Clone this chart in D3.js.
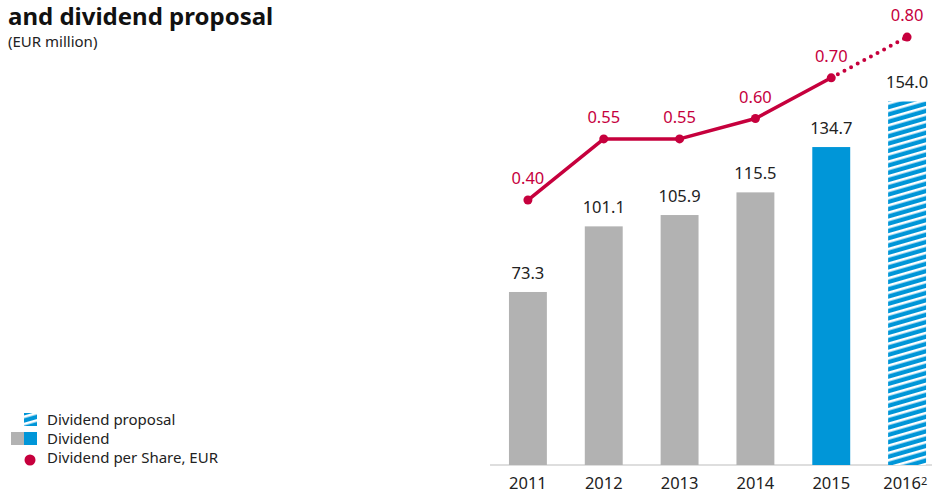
<!DOCTYPE html>
<html>
<head>
<meta charset="utf-8">
<script src="https://cdn.jsdelivr.net/npm/d3@7"></script>
<style>
  html, body { margin: 0; padding: 0; background: #fff; }
  svg { display: block; font-family: "Noto Sans", "Open Sans", sans-serif; }
</style>
</head>
<body>
<svg id="chart" width="932" height="494"></svg>
<script>
// Dividend totals (EUR million) and dividend per share (EUR)
const years = ["2011", "2012", "2013", "2014", "2015", "2016"];
const dividendTotal = [73.3, 101.1, 105.9, 115.5, 134.7, 154.0];
const barKind = ["past", "past", "past", "past", "current", "proposal"];
const dividendPerShare = [0.40, 0.55, 0.55, 0.60, 0.70, 0.80];
const footnoteYear = "2016";
const footnoteMark = "2";

const legendItems = ["Dividend proposal", "Dividend", "Dividend per Share, EUR"];

const GREY = "#b2b2b2", BLUE = "#0096d8", RED = "#c6003d", TEXT = "#222";

const svg = d3.select("#chart");

// Striped fill for the proposed dividend
const defs = svg.append("defs");
const pat = defs.append("pattern")
  .attr("id", "stripes")
  .attr("patternUnits", "userSpaceOnUse")
  .attr("width", 20).attr("height", 7)
  .attr("patternTransform", "rotate(-16)");
pat.append("rect").attr("width", 20).attr("height", 7).attr("fill", BLUE);
pat.append("rect").attr("y", 0).attr("width", 20).attr("height", 2.6).attr("fill", "#fff");

// Heading
svg.append("text").attr("x", 8).attr("y", 25)
  .attr("font-size", 24).attr("font-weight", "bold").attr("fill", "#111")
  .text("and dividend proposal");
svg.append("text").attr("x", 8).attr("y", 47)
  .attr("font-size", 15).attr("fill", TEXT)
  .text("(EUR million)");

// Scales
const x = d3.scaleBand().domain(years).range([490, 945]).paddingInner(0.5).paddingOuter(0.25);
const y = d3.scaleLinear().domain([0, 197]).range([465, 0]);
const y2 = d3.scaleLinear().domain([0, 0.891]).range([363, 0]);

// Baseline
svg.append("line")
  .attr("x1", 490).attr("x2", 932)
  .attr("y1", y(0)).attr("y2", y(0))
  .attr("stroke", "#bdbdbd").attr("stroke-width", 1);

// Bars
const barData = years.map((yr, i) => ({ yr, v: dividendTotal[i], kind: barKind[i] }));
svg.append("g").selectAll("rect").data(barData).join("rect")
  .attr("x", d => x(d.yr))
  .attr("width", x.bandwidth())
  .attr("y", d => y(d.v))
  .attr("height", d => y(0) - y(d.v))
  .attr("fill", d => d.kind === "past" ? GREY : d.kind === "current" ? BLUE : "url(#stripes)");

svg.append("g").selectAll("text").data(barData).join("text")
  .attr("x", d => x(d.yr) + x.bandwidth() / 2)
  .attr("y", d => y(d.v) - 13)
  .attr("text-anchor", "middle").attr("font-size", 16.5).attr("fill", TEXT)
  .text(d => d.v.toFixed(1));

// Category axis
const axis = d3.axisBottom(x).tickSize(0).tickPadding(12);
const gAxis = svg.append("g").attr("transform", `translate(0,${y(0)})`).call(axis);
gAxis.select(".domain").remove();
gAxis.selectAll("text").attr("font-size", 16.5).attr("fill", TEXT)
  .attr("font-family", "Noto Sans, Open Sans, sans-serif");
// Footnoted year: label nudged left, footnote mark beside it
const fnTick = gAxis.selectAll(".tick").filter(d => d === footnoteYear);
fnTick.select("text").attr("dx", -5);
fnTick.append("text")
  .attr("x", 17).attr("y", 20)
  .attr("font-size", 11).attr("fill", TEXT)
  .attr("font-family", "Noto Sans, Open Sans, sans-serif")
  .text(footnoteMark);

// Dividend per share line (solid for paid years, dotted for proposal)
const pts = years.map((yr, i) => ({ yr, v: dividendPerShare[i], cx: x(yr) + x.bandwidth() / 2, cy: y2(dividendPerShare[i]) }));
const line = d3.line().x(d => d.cx).y(d => d.cy);
const last = pts.length - 1;
svg.append("path").datum(pts.slice(0, last))
  .attr("d", line).attr("fill", "none")
  .attr("stroke", RED).attr("stroke-width", 3.5).attr("stroke-linejoin", "round");
svg.append("path").datum(pts.slice(last - 1))
  .attr("d", line).attr("fill", "none")
  .attr("stroke", RED).attr("stroke-width", 4)
  .attr("stroke-linecap", "round").attr("stroke-dasharray", "0 7.5");
svg.append("g").selectAll("circle").data(pts).join("circle")
  .attr("cx", d => d.cx).attr("cy", d => d.cy).attr("r", 4.5).attr("fill", RED);
svg.append("g").selectAll("text").data(pts).join("text")
  .attr("x", d => d.cx).attr("y", d => d.cy - 16)
  .attr("text-anchor", "middle").attr("font-size", 16.5).attr("fill", RED)
  .text(d => d.v.toFixed(2));

// Legend
const lg = svg.append("g");
lg.append("rect").attr("x", 24).attr("y", 413).attr("width", 13).attr("height", 13).attr("fill", "url(#stripes)");
lg.append("rect").attr("x", 11).attr("y", 432).attr("width", 13).attr("height", 13).attr("fill", GREY);
lg.append("rect").attr("x", 24).attr("y", 432).attr("width", 13).attr("height", 13).attr("fill", BLUE);
lg.append("circle").attr("cx", 30).attr("cy", 460).attr("r", 5.5).attr("fill", RED);
lg.selectAll("text.item").data(legendItems).join("text")
  .attr("class", "item")
  .attr("x", 47).attr("y", (d, i) => 425 + i * 19)
  .attr("font-size", 15).attr("fill", TEXT)
  .text(d => d);
</script>
</body>
</html>
